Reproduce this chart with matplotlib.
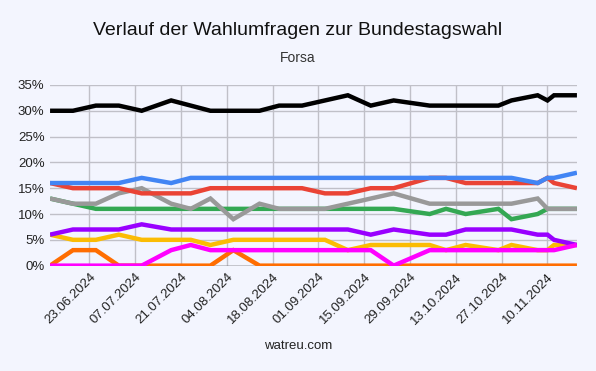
import matplotlib.pyplot as plt
import matplotlib.dates as mdates
import pandas as pd
import numpy as np

# Forsa polls
dates = pd.to_datetime([
    "2024-06-11", "2024-06-18", "2024-06-25", "2024-07-02", "2024-07-09",
    "2024-07-18", "2024-07-24", "2024-07-30", "2024-08-06", "2024-08-14",
    "2024-08-20", "2024-08-27", "2024-09-03", "2024-09-10", "2024-09-17",
    "2024-09-24", "2024-10-05", "2024-10-10", "2024-10-16", "2024-10-26",
    "2024-10-30", "2024-11-07", "2024-11-10", "2024-11-12", "2024-11-19",
])

cdu = [30, 30, 31, 31, 30, 32, 31, 30, 30, 30, 31, 31, 32, 33, 31, 32, 31, 31, 31, 31, 32, 33, 32, 33, 33]
afd = [16, 16, 16, 16, 17, 16, 17, 17, 17, 17, 17, 17, 17, 17, 17, 17, 17, 17, 17, 17, 17, 16, 17, 17, 18]
spd = [16, 15, 15, 15, 14, 14, 14, 15, 15, 15, 15, 15, 14, 14, 15, 15, 17, 17, 16, 16, 16, 16, 17, 16, 15]
gruene = [13, 12, 11, 11, 11, 11, 11, 11, 11, 11, 11, 11, 11, 11, 11, 11, 10, 11, 10, 11, 9, 10, 11, 11, 11]
sonstige = [13, 12, 12, 14, 15, 12, 11, 13, 9, 12, 11, 11, 11, 12, 13, 14, 12, 12, 12, 12, 12, 13, 11, 11, 11]
bsw = [6, 7, 7, 7, 8, 7, 7, 7, 7, 7, 7, 7, 7, 7, 6, 7, 6, 6, 7, 7, 7, 6, 6, 5, 4]
fdp = [6, 5, 5, 6, 5, 5, 5, 4, 5, 5, 5, 5, 5, 3, 4, 4, 4, 3, 4, 3, 4, 3, 3, 4, 4]
linke = [0, 0, 0, 0, 0, 3, 4, 3, 3, 3, 3, 3, 3, 3, 3, 0, 3, 3, 3, 3, 3, 3, 3, 3, 4]
fw = [0, 3, 3, 0, 0, 0, 0, 0, 3, 0, 0, 0, 0, 0, 0, 0, 0, 0, 0, 0, 0, 0, 0, 0, 0]

# bottom to top
series = [
    ("Freie Wähler", fw, "#ff6d01"),
    ("FDP", fdp, "#fbbc04"),
    ("BSW", bsw, "#9900ff"),
    ("Linke", linke, "#ff00ff"),
    ("Grüne", gruene, "#34a853"),
    ("Sonstige", sonstige, "#999999"),
    ("SPD", spd, "#ea4335"),
    ("AfD", afd, "#4285f4"),
    ("CDU/CSU", cdu, "#000000"),
]

bg = "#f3f5fe"
plt.rcParams["font.family"] = ["Liberation Sans", "DejaVu Sans"]

fig = plt.figure(figsize=(5.96, 3.71), dpi=100, facecolor=bg)
ax = fig.add_axes([0.084, 0.284, 0.884, 0.487])
ax.set_facecolor(bg)

for i, (name, vals, col) in enumerate(series):
    ax.plot(dates, vals, color=col, lw=3.2, label=name, zorder=3 + i,
            solid_joinstyle="miter", solid_capstyle="butt")

ax.axhline(0, color="#333333", lw=1, zorder=2)

ax.set_ylim(0, 35)
ax.set_yticks(np.arange(0, 36, 5))
ax.set_yticklabels([f"{v}%" for v in range(0, 36, 5)])
ax.set_xlim(dates[0], dates[-1])
ticks = pd.date_range("2024-06-23", "2024-11-10", freq="14D")
ax.set_xticks(ticks)
ax.xaxis.set_major_formatter(mdates.DateFormatter("%d.%m.%Y"))
plt.setp(ax.get_xticklabels(), rotation=45, ha="right", rotation_mode="anchor")

ax.grid(True, color="#c0c0c8", lw=1)
ax.set_axisbelow(True)
for s in ax.spines.values():
    s.set_visible(False)
ax.tick_params(length=0, labelsize=9.5, colors="#222222", pad=4)

fig.text(0.5, 0.918, "Verlauf der Wahlumfragen zur Bundestagswahl", ha="center", va="center",
         fontsize=14, color="#111111")
fig.text(0.5, 0.843, "Forsa", ha="center", va="center", fontsize=10, color="#333333")
fig.text(0.5, 0.068, "watreu.com", ha="center", va="center", fontsize=9.5, color="#222222")

fig.savefig("out.png", dpi=100, facecolor=bg)
